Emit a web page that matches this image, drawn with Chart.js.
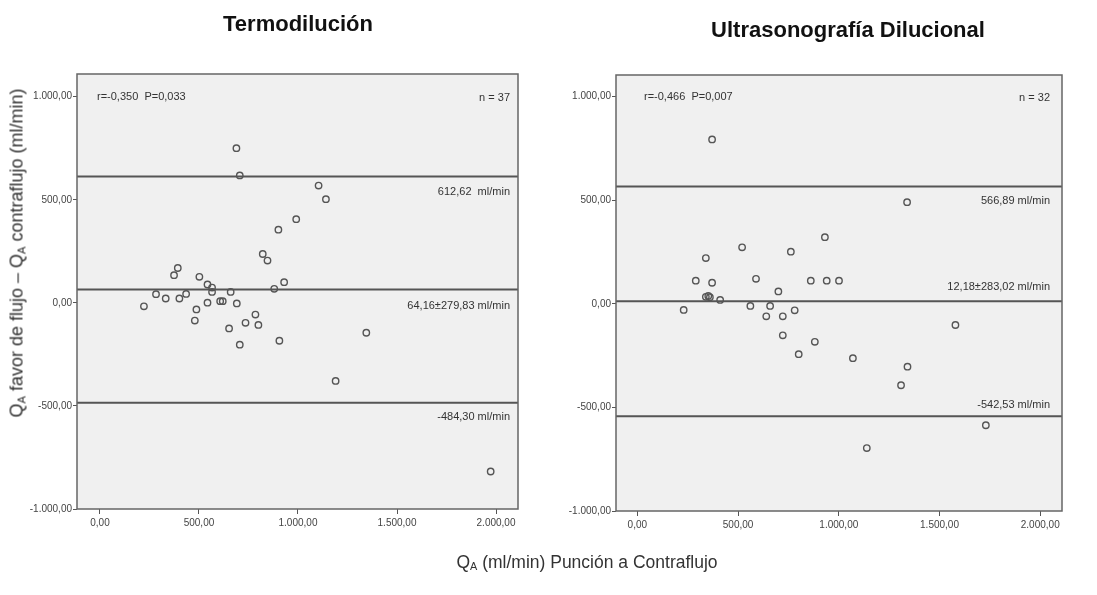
<!DOCTYPE html>
<html>
<head>
<meta charset="utf-8">
<script src="https://cdn.jsdelivr.net/npm/chart.js@4.4.1/dist/chart.umd.min.js"></script>
<style>
  html, body { margin:0; padding:0; background:#fff; }
  #wrap { position:relative; width:1097px; height:595px; overflow:hidden; font-family:"Liberation Sans", Arial, sans-serif; }
  canvas { position:absolute; top:0; }
  .title { position:absolute; font-weight:bold; font-size:22px; color:#111; white-space:nowrap; transform:translate(-50%,-50%); }
  .ytitle { position:absolute; font-size:18px; color:#333; white-space:nowrap; transform:translate(-50%,-50%) rotate(-90deg); }
  .xtitle { position:absolute; font-size:17.5px; color:#333; white-space:nowrap; transform:translate(-50%,-50%); }
  sub { font-size:0.62em; vertical-align:-0.25em; line-height:0; }
</style>
</head>
<body>
<div id="wrap">
  <canvas id="left" width="540" height="595" style="left:0"></canvas>
  <canvas id="right" width="557" height="595" style="left:540px"></canvas>
  <div class="title" style="left:298px; top:24px;">Termodilución</div>
  <div class="title" style="left:848px; top:30px;">Ultrasonografía Dilucional</div>
  <div class="ytitle" style="left:17px; top:253px;">Q<sub>A</sub> favor de flujo – Q<sub>A</sub> contraflujo (ml/min)</div>
  <div class="xtitle" style="left:587px; top:562px;">Q<sub>A</sub> (ml/min) Punción a Contraflujo</div>
</div>
<script>
// ---- Data ----
const yTicks = [-1000, -500, 0, 500, 1000];
const xTicks = [0, 500, 1000, 1500, 2000];

// Termodilución (n = 37)
const termoX = [689, 706, 1104, 1141, 991, 901, 822, 846, 930, 880,
                393, 374, 502, 543, 566, 566, 660, 283, 435, 332,
                401, 543, 607, 620, 691, 222, 487, 479, 785, 735,
                800, 652, 706, 906, 1345, 1190, 1973];
const termoY = [750, 618, 569, 503, 406, 355, 237, 205, 100, 68,
                169, 134, 126, 89, 74, 53, 53, 42, 43, 21,
                21, 1, 8, 8, -3, -17, -32, -86, -57, -97,
                -107, -124, -203, -184, -145, -379, -818];
const termoLines = [612.62, 64.16, -484.30];
const termoLineLabels = ["612,62  ml/min", "64,16±279,83 ml/min", "-484,30 ml/min"];
const termoStat = "r=-0,350  P=0,033";
const termoN = "n = 37";

// Ultrasonografía Dilucional (n = 32)
const ultraX = [371, 1339, 931, 520, 762, 340, 290, 371, 589, 861,
                940, 1001, 700, 340, 352, 360, 411, 561, 659, 230,
                781, 640, 722, 722, 881, 801, 1070, 1341, 1309, 1579,
                1730, 1139];
const ultraY = [794, 491, 322, 273, 252, 221, 112, 102, 121, 112,
                112, 112, 60, 34, 38, 32, 19, -10, -10, -29,
                -31, -60, -60, -152, -183, -243, -262, -303, -393, -102,
                -586, -696];
const ultraLines = [566.89, 12.18, -542.53];
const ultraLineLabels = ["566,89 ml/min", "12,18±283,02 ml/min", "-542,53 ml/min"];
const ultraStat = "r=-0,466  P=0,007";
const ultraN = "n = 32";

// ---- Helpers ----
function fmt(v) {
  const neg = v < 0;
  const a = Math.abs(Math.round(v));
  const s = String(a).replace(/\B(?=(\d{3})+(?!\d))/g, ".");
  return (neg ? "-" : "") + s + ",00";
}

const FONT = "'Liberation Sans', Arial, sans-serif";

const panelPlugin = {
  id: 'panel',
  beforeDraw(chart, args, o) {
    const {ctx, chartArea: a} = chart;
    ctx.save();
    ctx.fillStyle = '#f0f0f0';
    ctx.fillRect(a.left, a.top, a.right - a.left, a.bottom - a.top);
    ctx.restore();
  },
  afterDatasetsDraw(chart, args, o) {
    const {ctx, chartArea: a, scales} = chart;
    ctx.save();
    // reference lines
    ctx.strokeStyle = '#555';
    ctx.lineWidth = 2;
    o.lines.forEach((v, i) => {
      const y = scales.y.getPixelForValue(v);
      ctx.beginPath();
      ctx.moveTo(a.left, y);
      ctx.lineTo(a.right, y);
      ctx.stroke();
      ctx.fillStyle = '#333';
      ctx.font = '11px ' + FONT;
      ctx.textAlign = 'right';
      ctx.textBaseline = 'middle';
      ctx.fillText(o.labels[i], a.right - o.labelInset, y + o.offsets[i]);
    });
    // stat texts
    const yTop = scales.y.getPixelForValue(1000);
    ctx.font = '11px ' + FONT;
    ctx.fillStyle = '#333';
    ctx.textBaseline = 'middle';
    ctx.textAlign = 'left';
    ctx.fillText(o.stat, a.left + o.statInset, yTop);
    ctx.textAlign = 'right';
    ctx.fillText(o.n, a.right - o.labelInset, yTop + 1);
    // frame
    ctx.strokeStyle = '#666';
    ctx.lineWidth = 1.5;
    ctx.strokeRect(a.left, a.top, a.right - a.left, a.bottom - a.top);
    ctx.restore();
  }
};

function makeChart(id, cfg) {
  return new Chart(document.getElementById(id), {
    type: 'scatter',
    data: {
      datasets: [{
        data: cfg.x.map((x, i) => ({x: x, y: cfg.y[i]})),
        pointRadius: 3.2,
        pointBorderWidth: 1.4,
        pointBorderColor: '#555',
        pointBackgroundColor: 'rgba(0,0,0,0)'
      }]
    },
    options: {
      responsive: false,
      animation: false,
      events: [],
      layout: { padding: cfg.padding },
      plugins: {
        legend: { display: false },
        tooltip: { enabled: false },
        panel: {
          lines: cfg.lines, labels: cfg.labels, offsets: cfg.offsets,
          labelInset: cfg.labelInset, statInset: cfg.statInset,
          stat: cfg.stat, n: cfg.n
        }
      },
      scales: {
        x: {
          type: 'linear', min: cfg.xmin, max: cfg.xmax,
          afterBuildTicks: s => { s.ticks = xTicks.map(v => ({value: v})); },
          afterFit: s => { s.height = 30; },
          grid: { drawOnChartArea: false, drawTicks: true, tickLength: 5, color: '#555', lineWidth: 1 },
          border: { display: false },
          ticks: { callback: v => fmt(v), font: { family: FONT, size: 10 }, color: '#444', padding: 3, maxRotation: 0, autoSkip: false }
        },
        y: {
          type: 'linear', min: cfg.ymin, max: cfg.ymax,
          afterBuildTicks: s => { s.ticks = yTicks.map(v => ({value: v})); },
          afterFit: s => { s.width = cfg.yw; },
          grid: { drawOnChartArea: false, drawTicks: true, tickLength: 4, color: '#555', lineWidth: 1 },
          border: { display: false },
          ticks: { callback: v => fmt(v), font: { family: FONT, size: 10 }, color: '#444', padding: 1, autoSkip: false }
        }
      }
    },
    plugins: [panelPlugin]
  });
}

makeChart('left', {
  x: termoX, y: termoY, lines: termoLines, labels: termoLineLabels,
  offsets: [15, 16, 14], labelInset: 8, statInset: 20,
  stat: termoStat, n: termoN,
  xmin: -116, xmax: 2111, ymin: -1000, ymax: 1110, yw: 77,
  padding: { top: 74, right: 22, left: 0, bottom: 56 }
});

makeChart('right', {
  x: ultraX, y: ultraY, lines: ultraLines, labels: ultraLineLabels,
  offsets: [15, -14, -11], labelInset: 12, statInset: 28,
  stat: ultraStat, n: ultraN,
  xmin: -106, xmax: 2108, ymin: -1000, ymax: 1105, yw: 76,
  padding: { top: 75, right: 35, left: 0, bottom: 54 }
});
</script>
</body>
</html>
